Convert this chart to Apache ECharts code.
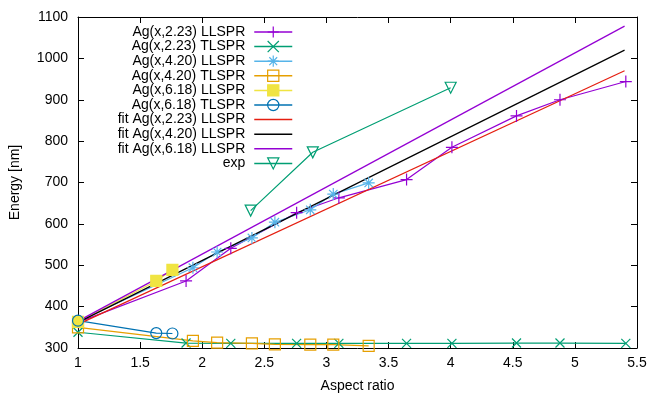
<!DOCTYPE html>
<html><head><meta charset="utf-8">
<script src="https://cdn.jsdelivr.net/npm/echarts@6/dist/echarts.min.js"></script>
<style>html,body{margin:0;padding:0;background:#fff}#c{width:650px;height:398px}</style>
</head><body><div id="c"></div>
<script>
// Aspect ratios and energies
const ar223 = [1, 1.87, 2.23, 2.76, 3.10, 3.645, 4.01, 4.53, 4.88, 5.41];
const ll223 = [362, 462, 541, 627, 663, 707, 785, 861, 900, 944];
const tl223 = [338, 312, 311, 311, 311, 311, 311, 312, 312, 311];
const ar420 = [1, 1.925, 2.12, 2.40, 2.585, 2.87, 3.055, 3.34];
const ll420 = [364, 494, 532, 566, 604, 634, 672, 699];
const tl420 = [350, 317, 313, 311, 309, 308, 308, 305];
const ar618 = [1, 1.63, 1.76];
const ll618 = [363, 462, 489];
const tl618 = [366, 336, 335];
const fitX = [1, 5.4];
const fit223 = [357, 970];
const fit420 = [362, 1020];
const fit618 = [365, 1078];
const expX = [2.39, 2.89, 4.0];
const expY = [632, 773, 929];
const xTicks = [1, 1.5, 2, 2.5, 3, 3.5, 4, 4.5, 5, 5.5];
const yTicks = [300, 400, 500, 600, 700, 800, 900, 1000, 1100];

const names = ['Ag(x,2.23) LLSPR','Ag(x,2.23) TLSPR','Ag(x,4.20) LLSPR','Ag(x,4.20) TLSPR',
  'Ag(x,6.18) LLSPR','Ag(x,6.18) TLSPR','fit Ag(x,2.23) LLSPR','fit Ag(x,4.20) LLSPR','fit Ag(x,6.18) LLSPR','exp'];

const FONT = 'Liberation Sans, Arial, Helvetica, sans-serif';
const zip = (xs, ys) => xs.map((x, i) => [x, ys[i]]);
const T = 'rgba(0,0,0,0)';
const PLUS = 'path://M0,5L10,5M5,0L5,10';
const CROSS = 'path://M0,0L10,10M10,0L0,10';
const STAR = 'path://M0,5L10,5M5,0L5,10M1.5,1.5L8.5,8.5M8.5,1.5L1.5,8.5';
const DTRI = 'path://M0,0L10,0L5,9Z';

function ser(name, xs, ys, color, symbol, size, filled) {
  const none = symbol === 'none';
  return {
    name, type: 'line', data: zip(xs, ys), symbol, symbolSize: size,
    showSymbol: !none,
    lineStyle: { color, width: 1.2 },
    itemStyle: none ? { color: T, borderColor: T, borderWidth: 0 }
                    : { color: filled ? color : T, borderColor: color, borderWidth: 1.2 },
    emphasis: { disabled: true }, animation: false
  };
}

const series = [
  ser(names[0], ar223, ll223, '#9400d3', PLUS, 12, false),
  ser(names[1], ar223, tl223, '#009e73', CROSS, 9, false),
  ser(names[2], ar420, ll420, '#56b4e9', STAR, 12, false),
  ser(names[3], ar420, tl420, '#e69f00', 'rect', 11, false),
  ser(names[4], ar618, ll618, '#f0e442', 'rect', 11, true),
  ser(names[5], ar618, tl618, '#0072b2', 'circle', 11, false),
  ser(names[6], fitX, fit223, '#e51e10', 'none', 0, false),
  ser(names[7], fitX, fit420, '#000000', 'none', 0, false),
  ser(names[8], fitX, fit618, '#9400d3', 'none', 0, false),
  ser(names[9], expX, expY, '#009e73', DTRI, 11, false)
];

const tickBase = { show: true, inside: true, length: 6, lineStyle: { color: '#000' } };
const lineBase = { show: true, onZero: false, lineStyle: { color: '#000', width: 1 } };
const chart = echarts.init(document.getElementById('c'), null, { renderer: 'canvas' });
chart.setOption({
  animation: false,
  backgroundColor: '#fff',
  textStyle: { fontFamily: FONT },
  grid: { left: 77, right: 13, top: 17, bottom: 45, containLabel: false },
  legend: {
    data: names, orient: 'vertical', align: 'right', right: 357, top: 25,
    padding: 0, itemWidth: 38, itemHeight: 14, itemGap: 0.6,
    lineStyle: { width: 1.5 }, itemStyle: { borderWidth: 1.2 },
    textStyle: { fontFamily: FONT, fontSize: 14, color: '#000', lineHeight: 14, padding: [0, 4, 0, 0] },
    selectedMode: false
  },
  xAxis: [
    { type: 'value', min: xTicks[0], max: xTicks[xTicks.length - 1], interval: 0.5,
      name: 'Aspect ratio', nameLocation: 'middle', nameGap: 31,
      nameTextStyle: { fontFamily: FONT, fontSize: 14, color: '#000' },
      axisLine: lineBase, axisTick: tickBase, splitLine: { show: false },
      axisLabel: { fontFamily: FONT, fontSize: 14, color: '#000', margin: 8, formatter: v => String(v) } },
    { type: 'value', position: 'top', min: xTicks[0], max: xTicks[xTicks.length - 1], interval: 0.5,
      axisLine: lineBase, axisTick: tickBase, splitLine: { show: false }, axisLabel: { show: false } }
  ],
  yAxis: [
    { type: 'value', min: yTicks[0], max: yTicks[yTicks.length - 1], interval: 100,
      name: 'Energy [nm]', nameLocation: 'middle', nameGap: 56, nameRotate: 90,
      nameTextStyle: { fontFamily: FONT, fontSize: 14, color: '#000' },
      axisLine: lineBase, axisTick: tickBase, splitLine: { show: false },
      axisLabel: { fontFamily: FONT, fontSize: 14, color: '#000', margin: 10, formatter: v => String(v) } },
    { type: 'value', position: 'right', min: yTicks[0], max: yTicks[yTicks.length - 1], interval: 100,
      axisLine: lineBase, axisTick: tickBase, splitLine: { show: false }, axisLabel: { show: false } }
  ],
  series
});
</script></body></html>
